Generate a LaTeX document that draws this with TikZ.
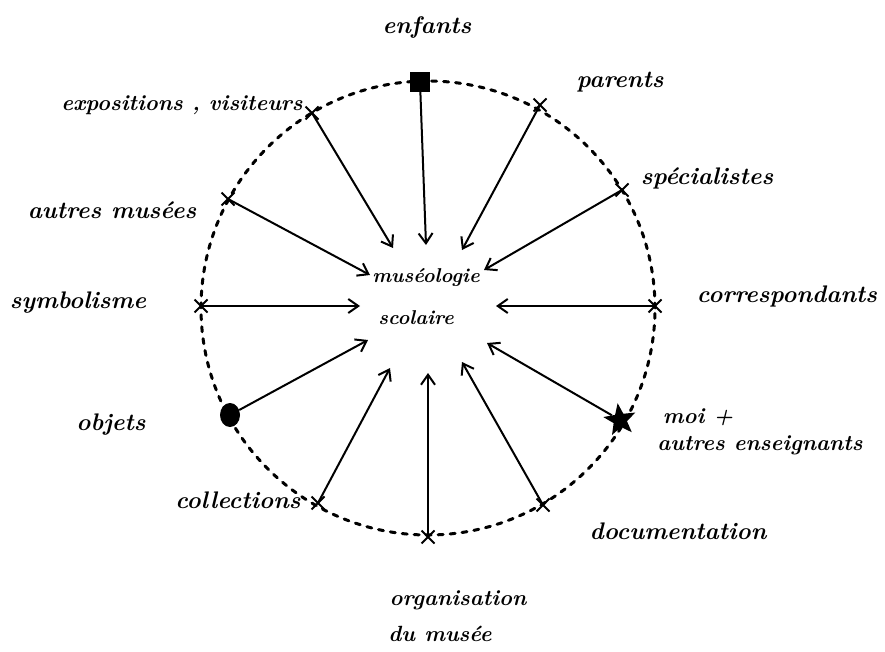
\documentclass[tikz,border=0pt]{standalone}
\usetikzlibrary{arrows.meta,shapes.geometric,shapes.misc}
\begin{document}
\begin{tikzpicture}[x=1pt,y=-1pt,
 lab/.style={font=\fontsize{#1}{#1}\selectfont\bfseries\itshape, inner sep=0},
 lab/.default=24,
 cr/.style={cross out, draw, line width=2pt, minimum size=11pt, inner sep=0},
 arr/.style={line width=2pt, -{Straight Barb[length=10pt,width=14pt,line width=2pt]}},
 ring/.style={line width=3pt, dash pattern=on 5pt off 7pt, line cap=round}]
\useasboundingbox (0,0) rectangle (885,652);
\fill[white] (0,0) rectangle (885,652);
\draw[ring] (428,308) circle[radius=227pt];
% markers on the ring
\node[fill, minimum size=20pt, inner sep=0] (enf) at (420,82) {};
\node[cr] (par) at (540,105) {};
\node[cr] (spe) at (622,190) {};
\node[cr] (cor) at (655,306) {};
\node[star, star points=5, star point ratio=2.4, fill, minimum size=34pt, inner sep=0, rotate=8] (moi) at (620,420) {};
\node[cr] (doc) at (543,505) {};
\node[cr] (org) at (428,537) {};
\node[cr] (col) at (318,503) {};
\node[ellipse, fill, minimum width=20pt, minimum height=24pt, inner sep=0] (obj) at (230,415) {};
\node[cr] (sym) at (201,306) {};
\node[cr] (aut) at (228,199) {};
\node[cr] (exp) at (312,113) {};
% arrow tips
\coordinate (tenf) at (426,245);
\coordinate (tpar) at (462,250);
\coordinate (tspe) at (484,270);
\coordinate (tcor) at (496,306);
\coordinate (tmoi) at (487,343);
\coordinate (tdoc) at (462,362);
\coordinate (torg) at (428,373);
\coordinate (tcol) at (390,368);
\coordinate (tobj) at (368,340);
\coordinate (tsym) at (360,306);
\coordinate (taut) at (370,275);
\coordinate (texp) at (393,248);
\draw[arr] (enf) -- (tenf);
\draw[arr] (par.center) -- (tpar);
\draw[arr] (spe.center) -- (tspe);
\draw[arr] (cor.center) -- (tcor);
\draw[arr] (moi) -- (tmoi);
\draw[arr] (doc.center) -- (tdoc);
\draw[arr] (org.center) -- (torg);
\draw[arr] (col.center) -- (tcol);
\draw[arr] (obj) -- (tobj);
\draw[arr] (sym.center) -- (tsym);
\draw[arr] (aut.center) -- (taut);
\draw[arr] (exp.center) -- (texp);
% centre text
\node[lab=20] (c1) at (426,278) {muséologie};
\node[lab=20] (c2) at (416,318) {scolaire};
% labels
\node[lab] (lenf) at (427,28) {enfants};
\node[lab] (lpar) at (620,82) {parents};
\node[lab] (lspe) at (707,178) {spécialistes};
\node[lab] (lcor) at (787,296) {correspondants};
\node[lab=22] (lmoi1) at (698,417) {moi +};
\node[lab=22] (lmoi2) at (760,445) {autres enseignants};
\node[lab] (ldoc) at (678,531) {documentation};
\node[lab=22] (lorg1) at (458,600) {organisation};
\node[lab=22] (lorg2) at (440,634) {du musée};
\node[lab] (lcol) at (238,500) {collections};
\node[lab] (lobj) at (111,425) {objets};
\node[lab] (lsym) at (78,303) {symbolisme};
\node[lab] (laut) at (112,210) {autres musées};
\node[lab=22] (lexp) at (182,105) {expositions , visiteurs};
\end{tikzpicture}
\end{document}
